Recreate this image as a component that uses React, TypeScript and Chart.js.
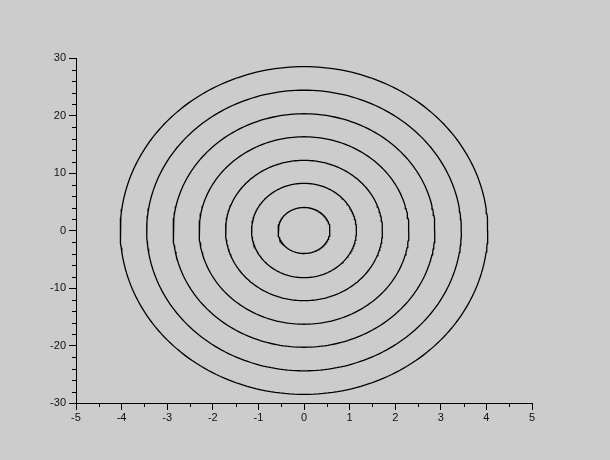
import React, { useEffect, useRef } from "react";
import { Chart, registerables } from "chart.js";

Chart.register(...registerables);

// Semi-axes of each level curve (ellipse centred at origin)
const semiAxisX = [0.57, 1.15, 1.72, 2.3, 2.87, 3.45, 4.03];
const semiAxisY = [4.0, 8.2, 12.2, 16.3, 20.3, 24.4, 28.5];
const xTicks = [-5, -4, -3, -2, -1, 0, 1, 2, 3, 4, 5];
const yTicks = [-30, -20, -10, 0, 10, 20, 30];
const xMinorStep = 0.5;
const yMinorStep = 2;

const SAMPLES = 240;

function ellipse(a: number, b: number) {
  const pts: { x: number; y: number }[] = [];
  for (let i = 0; i <= SAMPLES; i++) {
    const t = (i / SAMPLES) * Math.PI * 2;
    pts.push({ x: a * Math.cos(t), y: b * Math.sin(t) });
  }
  return pts;
}

const minorTicks = {
  id: "minorTicks",
  afterDraw(chart: any) {
    const ctx = chart.ctx;
    const xs = chart.scales.x;
    const ys = chart.scales.y;
    ctx.save();
    ctx.strokeStyle = "#000";
    ctx.lineWidth = 1;
    ctx.beginPath();
    for (let v = xTicks[0]; v <= xTicks[xTicks.length - 1] + 1e-9; v += xMinorStep) {
      if (Math.abs(v - Math.round(v)) < 1e-9) continue;
      const px = Math.round(xs.getPixelForValue(v)) + 0.5;
      ctx.moveTo(px, ys.bottom);
      ctx.lineTo(px, ys.bottom + 4);
    }
    for (let v = yTicks[0]; v <= yTicks[yTicks.length - 1] + 1e-9; v += yMinorStep) {
      if (Math.abs(v % 10) < 1e-9) continue;
      const py = Math.round(ys.getPixelForValue(v)) + 0.5;
      ctx.moveTo(xs.left, py);
      ctx.lineTo(xs.left - 4, py);
    }
    ctx.stroke();
    ctx.restore();
  },
};

export default function App() {
  const ref = useRef<HTMLCanvasElement | null>(null);
  useEffect(() => {
    if (!ref.current) return;
    const datasets = semiAxisX.map((a, i) => ({
      data: ellipse(a, semiAxisY[i]),
      showLine: true,
      borderColor: "#000",
      borderWidth: 1.3,
      pointRadius: 0,
      fill: false,
      tension: 0,
    }));
    const chart = new Chart(ref.current, {
      type: "scatter",
      data: { datasets },
      options: {
        animation: false,
        responsive: false,
        maintainAspectRatio: false,
        layout: { padding: { top: 58, right: 78, left: 0, bottom: 0 } },
        plugins: { legend: { display: false }, tooltip: { enabled: false } },
        scales: {
          x: {
            type: "linear",
            min: -5,
            max: 5,
            afterFit: (s: any) => {
              s.height = 57;
            },
            afterBuildTicks: (s: any) => {
              s.ticks = xTicks.map((v) => ({ value: v }));
            },
            ticks: {
              color: "#111",
              font: { family: "Liberation Sans", size: 11 },
              padding: 1,
              maxRotation: 0,
              autoSkip: false,
            },
            grid: { drawOnChartArea: false, tickLength: 7, tickColor: "#000", tickWidth: 1 },
            border: { display: true, color: "#000", width: 1 },
          },
          y: {
            type: "linear",
            min: -30,
            max: 30,
            afterFit: (s: any) => {
              s.width = 76;
            },
            afterBuildTicks: (s: any) => {
              s.ticks = yTicks.map((v) => ({ value: v }));
            },
            ticks: {
              color: "#111",
              font: { family: "Liberation Sans", size: 11 },
              padding: 3,
              autoSkip: false,
            },
            grid: { drawOnChartArea: false, tickLength: 7, tickColor: "#000", tickWidth: 1 },
            border: { display: true, color: "#000", width: 1 },
          },
        },
      },
      plugins: [minorTicks],
    });
    return () => chart.destroy();
  }, []);
  return (
    <div style={{ position: "fixed", left: 0, top: 0, width: 610, height: 460, background: "#cccccc" }}>
      <canvas ref={ref} width={610} height={460} style={{ display: "block", width: 610, height: 460 }} />
    </div>
  );
}
